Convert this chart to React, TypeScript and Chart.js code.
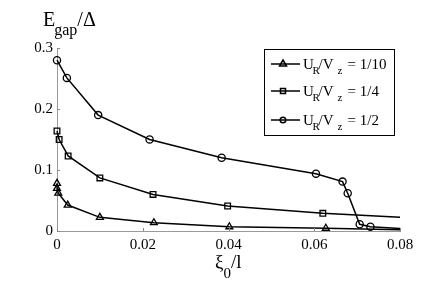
import React, { useEffect, useRef } from "react";
import { Chart, registerables } from "chart.js";

Chart.register(...registerables);

const xTicks = [0, 0.02, 0.04, 0.06, 0.08];
const yTicks = [0, 0.1, 0.2, 0.3];

const xTri = [0, 0, 0.0003, 0.0025, 0.01, 0.0226, 0.0402, 0.0627, 0.08];
const yTri = [0.078, 0.07, 0.062, 0.0425, 0.0224, 0.0136, 0.007, 0.0045, 0.002];

const xSq = [0, 0.0005, 0.0026, 0.01, 0.0224, 0.0398, 0.062, 0.08];
const ySq = [0.164, 0.15, 0.123, 0.087, 0.06, 0.041, 0.029, 0.0225];

const xCirc = [0, 0.0023, 0.0096, 0.0216, 0.0384, 0.0604, 0.0666, 0.0678, 0.0706, 0.0731, 0.08];
const yCirc = [0.28, 0.251, 0.19, 0.15, 0.12, 0.094, 0.081, 0.062, 0.011, 0.007, 0.004];

const seriesNames = ["1/10", "1/4", "1/2"];

const FONT = "'Liberation Serif', 'DejaVu Serif', serif";

function pts(xs: number[], ys: number[]) {
  return xs.map((x, i) => ({ x, y: ys[i] }));
}
function radii(n: number, r: number) {
  return Array.from({ length: n }, (_, i) => (i === n - 1 ? 0 : r));
}

const overlay = {
  id: "overlay",
  afterDraw(chart: any) {
    const ctx = chart.ctx as CanvasRenderingContext2D;
    const xs = chart.scales.x;
    const ys = chart.scales.y;
    const area = chart.chartArea;
    ctx.save();
    // inward tick marks
    ctx.strokeStyle = "#888";
    ctx.lineWidth = 1;
    xTicks.forEach((t) => {
      const px = Math.round(xs.getPixelForValue(t)) + 0.5;
      ctx.beginPath();
      ctx.moveTo(px, area.bottom);
      ctx.lineTo(px, area.bottom - 3);
      ctx.stroke();
    });
    yTicks.forEach((t) => {
      const py = Math.round(ys.getPixelForValue(t)) + 0.5;
      ctx.beginPath();
      ctx.moveTo(area.left, py);
      ctx.lineTo(area.left + 3, py);
      ctx.stroke();
    });

    // y axis title E_gap/Δ
    ctx.fillStyle = "#000";
    ctx.textBaseline = "alphabetic";
    ctx.textAlign = "left";
    ctx.font = `20px ${FONT}`;
    let x = 43;
    ctx.fillText("E", x, 26);
    x += ctx.measureText("E").width - 1;
    ctx.font = `16px ${FONT}`;
    ctx.fillText("gap", x, 35);
    x += ctx.measureText("gap").width;
    ctx.font = `20px ${FONT}`;
    ctx.fillText("/Δ", x, 26);

    // x axis title ξ0/l
    ctx.font = `19px ${FONT}`;
    x = 215;
    ctx.fillText("ξ", x, 268);
    x += ctx.measureText("ξ").width;
    ctx.font = `15px ${FONT}`;
    ctx.fillText("0", x, 278);
    x += ctx.measureText("0").width;
    ctx.font = `19px ${FONT}`;
    ctx.fillText("/l", x, 268);

    // legend
    const bx = 264.5, by = 49.5, bw = 130, bh = 86;
    ctx.fillStyle = "#fff";
    ctx.fillRect(bx, by, bw, bh);
    ctx.strokeStyle = "#000";
    ctx.lineWidth = 1;
    ctx.strokeRect(bx, by, bw, bh);
    const rows = [64, 91, 120];
    const shapes = ["triangle", "rect", "circle"];
    rows.forEach((ry, i) => {
      ctx.strokeStyle = "#000";
      ctx.lineWidth = 1.5;
      ctx.beginPath();
      ctx.moveTo(271, ry);
      ctx.lineTo(300, ry);
      ctx.stroke();
      const cx = 283;
      ctx.beginPath();
      if (shapes[i] === "triangle") {
        ctx.moveTo(cx, ry - 4);
        ctx.lineTo(cx + 3.5, ry + 2);
        ctx.lineTo(cx - 3.5, ry + 2);
        ctx.closePath();
      } else if (shapes[i] === "rect") {
        ctx.rect(cx - 2.5, ry - 2.5, 5, 5);
      } else {
        ctx.arc(cx, ry, 2.8, 0, Math.PI * 2);
      }
      ctx.stroke();
      ctx.fillStyle = "#000";
      const base = ry + 5;
      ctx.font = `15px ${FONT}`;
      ctx.fillText("U", 303, base);
      ctx.font = `11px ${FONT}`;
      ctx.fillText("R", 312.5, base + 5);
      ctx.font = `15px ${FONT}`;
      ctx.fillText("/V", 318.5, base);
      ctx.font = `11px ${FONT}`;
      ctx.fillText("z", 337.5, base + 5);
      ctx.font = `15px ${FONT}`;
      ctx.fillText("= " + seriesNames[i], 347.5, base);
    });
    ctx.restore();
  },
};

export default function App() {
  const ref = useRef<HTMLCanvasElement>(null);
  useEffect(() => {
    if (!ref.current) return;
    const common = {
      borderColor: "#000",
      backgroundColor: "rgba(0,0,0,0)",
      pointBorderColor: "#000",
      pointBackgroundColor: "rgba(0,0,0,0)",
      borderWidth: 1.5,
      pointBorderWidth: 1.3,
      tension: 0,
      clip: false as any,
      showLine: true,
    };
    const chart = new Chart(ref.current, {
      type: "scatter",
      data: {
        datasets: [
          {
            ...common,
            label: "1/10",
            data: pts(xTri, yTri),
            pointStyle: "triangle",
            pointRadius: radii(xTri.length, 4),
          },
          {
            ...common,
            label: "1/4",
            data: pts(xSq, ySq),
            pointStyle: "rect",
            pointRadius: radii(xSq.length, 4),
          },
          {
            ...common,
            label: "1/2",
            data: pts(xCirc, yCirc),
            pointStyle: "circle",
            pointRadius: radii(xCirc.length, 3.6),
          },
        ],
      },
      options: {
        animation: false,
        responsive: false,
        maintainAspectRatio: false,
        layout: { padding: { top: 48, right: 43, left: 0, bottom: 0 } },
        plugins: { legend: { display: false }, tooltip: { enabled: false }, title: { display: false } },
        scales: {
          x: {
            type: "linear",
            min: 0,
            max: 0.08,
            afterBuildTicks: (s: any) => {
              s.ticks = xTicks.map((v) => ({ value: v }));
            },
            afterFit: (s: any) => {
              s.height = 55;
            },
            grid: { display: false, drawTicks: false, tickLength: 0 },
            border: { display: true, color: "#999", width: 1 },
            ticks: {
              color: "#000",
              font: { family: FONT, size: 15 },
              padding: 5,
              maxRotation: 0,
              callback: (v: any) => String(+Number(v).toFixed(2)),
            },
          },
          y: {
            type: "linear",
            min: 0,
            max: 0.3,
            afterBuildTicks: (s: any) => {
              s.ticks = yTicks.map((v) => ({ value: v }));
            },
            afterFit: (s: any) => {
              s.width = 57;
            },
            grid: { display: false, drawTicks: false, tickLength: 0 },
            border: { display: true, color: "#999", width: 1 },
            ticks: {
              color: "#000",
              font: { family: FONT, size: 15 },
              padding: 4,
              callback: (v: any) => String(+Number(v).toFixed(1)),
            },
          },
        },
      },
      plugins: [overlay],
    });
    return () => chart.destroy();
  }, []);
  return (
    <div style={{ position: "fixed", left: 0, top: 0, width: 443, height: 286, background: "#fff" }}>
      <canvas ref={ref} width={443} height={286} style={{ width: 443, height: 286 }} />
    </div>
  );
}
